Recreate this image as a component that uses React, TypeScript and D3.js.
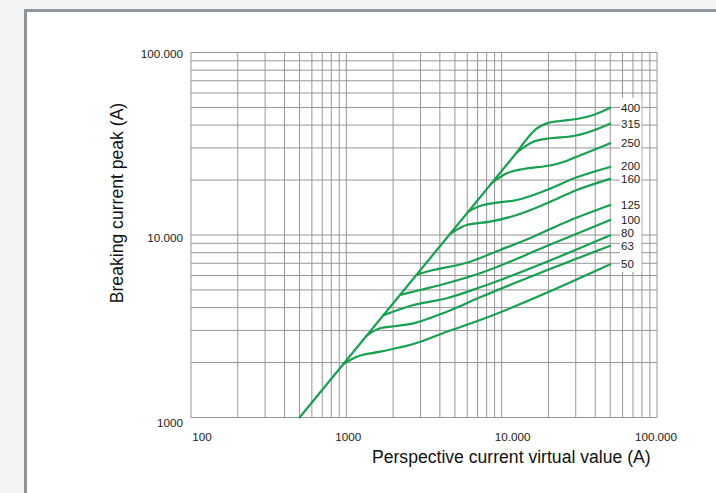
import React from "react";
import * as d3 from "d3";

// ---- Data ----
const X_TICKS = [100, 1000, 10000, 100000];
const X_TICK_LABELS = ["100", "1000", "10.000", "100.000"];
const Y_TICKS = [1000, 10000, 100000];
const Y_TICK_LABELS = ["1000", "10.000", "100.000"];

const RATINGS = ["400", "315", "250", "200", "160", "125", "100", "80", "63", "50"];

// Diagonal (unlimited peak) line
const DIAG_X = [500, 12510];
const DIAG_Y = [1000, 28320];

// Cut-off curves (prospective current, peak)
const C400_X = [12510, 16800, 19520, 23800, 30450, 38950, 50000];
const C400_Y = [28320, 38300, 40900, 42150, 43200, 45450, 49800];
const C315_X = [12510, 16000, 20500, 28950, 35320, 50000];
const C315_Y = [28320, 32450, 33880, 34870, 36360, 40700];
const C250_X = [8634, 10790, 13800, 19520, 23800, 30450, 50000];
const C250_Y = [19270, 21780, 22990, 23880, 24800, 26850, 31800];
const C200_X = [6104, 7261, 9300, 12510, 19520, 30450, 50000];
const C200_Y = [13440, 14420, 15030, 15550, 17640, 20710, 23600];
const C160_X = [4655, 5960, 8420, 12510, 19520, 30450, 50000];
const C160_Y = [10145, 11340, 11830, 12870, 14920, 17640, 20300];
const C125_X = [2841, 3633, 4887, 6260, 9765, 16000, 26260, 50000];
const C125_Y = [6075, 6430, 6760, 7140, 8275, 9790, 11830, 14600];
const C100_X = [2217, 2983, 4431, 7261, 19520, 50000];
const C100_Y = [4696, 4995, 5436, 6168, 8700, 12080];
const C80_X = [1731, 2700, 4431, 7261, 50000];
const C80_Y = [3632, 4134, 4500, 5170, 9960];
const C63_X = [1353, 1648, 2111, 2700, 4431, 7261, 50000];
const C63_Y = [2812, 3082, 3172, 3282, 3800, 4556, 8730];
const C50_X = [957, 1167, 1648, 2700, 4431, 7261, 50000];
const C50_Y = [1963, 2154, 2294, 2527, 2952, 3421, 6910];

const CURVES_X = [C400_X, C315_X, C250_X, C200_X, C160_X, C125_X, C100_X, C80_X, C63_X, C50_X];
const CURVES_Y = [C400_Y, C315_Y, C250_Y, C200_Y, C160_Y, C125_Y, C100_Y, C80_Y, C63_Y, C50_Y];

// ---- Layout / style ----
const W = 716;
const H = 493;
const FONT = "'Liberation Sans', Arial, Helvetica, sans-serif";
const GREEN = "#17a04f";
const GRID = "#969696";
const X_LABEL_NUDGE = [11, 2, 11, -1];
const Y_LABEL_NUDGE = [9.5, 6.5, 5];
const LABEL_GAP = 12.6;

export default function App() {
  const x = d3.scaleLog().domain([100, 100000]).range([191, 657]);
  const y = d3.scaleLog().domain([1000, 100000]).range([417.5, 52.5]);

  const xGrid = x.ticks();
  const yGrid = y.ticks();

  const line = d3
    .line<[number, number]>()
    .x((d) => x(d[0]))
    .y((d) => y(d[1]))
    .curve(d3.curveMonotoneX);
  const straight = d3
    .line<[number, number]>()
    .x((d) => x(d[0]))
    .y((d) => y(d[1]));

  const diag: [number, number][] = DIAG_X.map((v, i) => [v, DIAG_Y[i]]);

  // label positions: at curve end, pushed upward when too close to the one below
  const labelY = CURVES_Y.map((ys) => y(ys[ys.length - 1]));
  for (let i = labelY.length - 2; i >= 0; i--) {
    if (labelY[i + 1] - labelY[i] < LABEL_GAP) labelY[i] = labelY[i + 1] - LABEL_GAP;
  }

  return (
    <div style={{ position: "fixed", left: 0, top: 0, width: W, height: H }}>
      <svg width={W} height={H} style={{ display: "block" }} fontFamily={FONT}>
        <rect x={0} y={0} width={W} height={H} fill="#f4f4f4" />
        <rect x={25.5} y={10.5} width={W + 20} height={H + 20} fill="#ffffff" stroke="#8d959a" strokeWidth={3} />

        {/* grid */}
        <g>
          {xGrid.map((v, i) => (
            <line key={"gx" + i} x1={x(v)} x2={x(v)} y1={y(100000)} y2={y(1000)} stroke={GRID} strokeWidth={1} />
          ))}
          {yGrid.map((v, i) => (
            <line key={"gy" + i} x1={x(100)} x2={x(100000)} y1={y(v)} y2={y(v)} stroke={GRID} strokeWidth={1} />
          ))}
        </g>

        {/* curves */}
        <g fill="none" stroke={GREEN} strokeWidth={2.2} strokeLinecap="round" strokeLinejoin="round">
          <path d={straight(diag) || ""} />
          {CURVES_X.map((xs, ci) => {
            const pts: [number, number][] = xs.map((v, i) => [v, CURVES_Y[ci][i]]);
            return <path key={"c" + ci} d={line(pts) || ""} />;
          })}
        </g>

        {/* label column background */}
        <rect x={620} y={98} width={21.5} height={174} fill="#ffffff" />

        {/* curve labels */}
        <g fontSize={11.5} fill="#1a1a1a">
          {RATINGS.map((r, ci) => (
            <text key={"l" + ci} x={621} y={labelY[ci] + 4.1}>
              {r}
            </text>
          ))}
        </g>

        {/* tick labels */}
        <g fontSize={11.7} fill="#1a1a1a">
          {Y_TICKS.map((v, i) => (
            <text key={"yt" + i} x={183} y={y(v) + Y_LABEL_NUDGE[i]} textAnchor="end">
              {Y_TICK_LABELS[i]}
            </text>
          ))}
          {X_TICKS.map((v, i) => (
            <text key={"xt" + i} x={x(v) + X_LABEL_NUDGE[i]} y={441} textAnchor="middle">
              {X_TICK_LABELS[i]}
            </text>
          ))}
        </g>

        {/* axis titles */}
        <text x={511.3} y={462.5} textAnchor="middle" fontSize={17.6} fill="#111">
          Perspective current virtual value (A)
        </text>
        <text
          transform="translate(123,203) rotate(-90)"
          textAnchor="middle"
          fontSize={17.6}
          fill="#111"
        >
          Breaking current peak (A)
        </text>
      </svg>
    </div>
  );
}
